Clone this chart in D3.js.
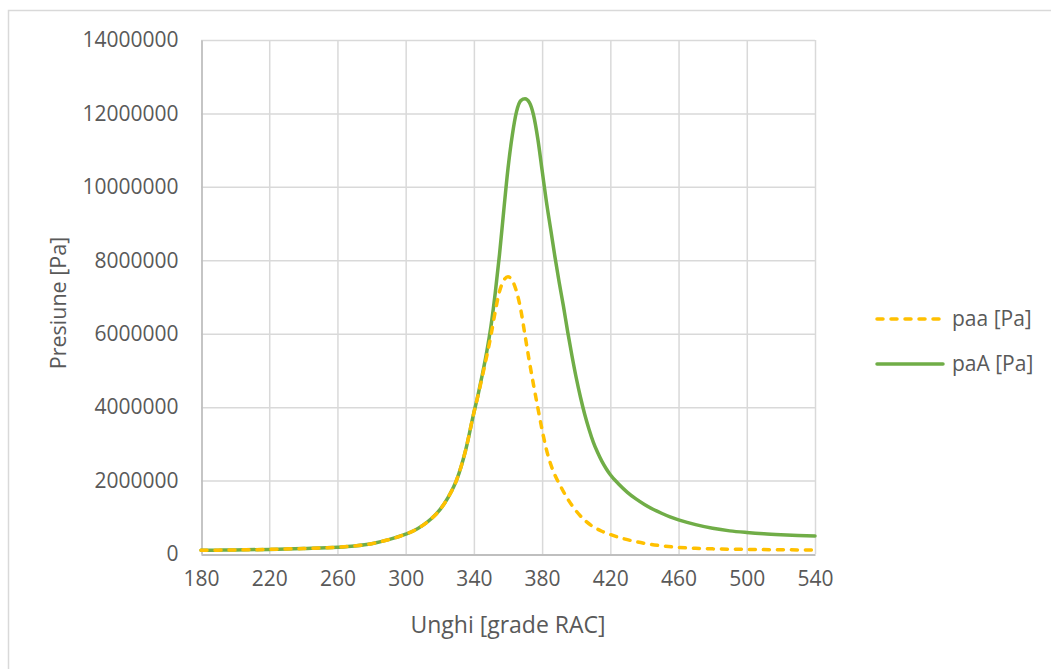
<!DOCTYPE html>
<html>
<head>
<meta charset="utf-8">
<script src="https://cdn.jsdelivr.net/npm/d3@7"></script>
<style>
  html, body { margin: 0; padding: 0; background: #fff; }
  svg { display: block; }
  text { font-family: "Open Sans", "Liberation Sans", sans-serif; fill: #595959; }
</style>
</head>
<body>
<svg id="chart" width="1051" height="669"></svg>
<script>
// Crank angle [deg] and cylinder pressure [Pa], fired cycle (paA)
const anglesA = [180, 190, 200, 220, 240, 260, 270, 280, 290, 300, 305, 310, 315, 320, 325, 330, 335, 340,
                 342.5, 345, 347.5, 350, 352.5, 355, 357.5, 360, 362.5, 365, 367.5, 370, 372.5, 375, 377.5,
                 380, 382.5, 385, 387.5, 390, 392.5, 395, 397.5, 400, 402.5, 405, 407.5, 410, 412.5, 415,
                 417.5, 420, 425, 430, 435, 440, 445, 450, 455, 460, 465, 470, 480, 490, 500, 510, 520, 530, 540];
const paA = [100000, 105000, 110000, 125000, 150000, 185000, 220000, 280000, 390000, 540000, 640000, 780000,
             960000, 1200000, 1550000, 2030000, 2800000, 3850000, 4350000, 4900000, 5500000, 6200000,
             7100000, 8150000, 9350000, 10500000, 11400000, 12050000, 12350000, 12400000, 12300000,
             11950000, 11300000, 10450000, 9600000, 8850000, 8100000, 7400000, 6750000, 6050000, 5400000,
             4800000, 4270000, 3800000, 3400000, 3050000, 2770000, 2530000, 2330000, 2160000, 1900000,
             1680000, 1500000, 1350000, 1220000, 1110000, 1010000, 930000, 860000, 800000, 700000, 630000,
             585000, 550000, 525000, 505000, 490000];

// Crank angle [deg] and cylinder pressure [Pa], motored cycle (paa)
const anglesa = [180, 190, 200, 220, 240, 260, 270, 280, 290, 300, 305, 310, 315, 320, 325, 330, 335, 340,
                 342.5, 345, 347.5, 350, 352.5, 355, 357.5, 360, 362.5, 365, 367.5, 370, 372.5, 375, 377.5,
                 380, 382.5, 385, 387.5, 390, 395, 400, 405, 410, 415, 420, 430, 440, 450, 460, 470, 480,
                 500, 520, 540];
const paa = [100000, 105000, 110000, 125000, 150000, 185000, 220000, 280000, 390000, 540000, 640000, 780000,
             960000, 1200000, 1550000, 2030000, 2800000, 3850000, 4330000, 4850000, 5380000, 5950000,
             6600000, 7150000, 7450000, 7550000, 7450000, 7150000, 6650000, 5950000, 5250000, 4600000,
             3980000, 3380000, 2850000, 2450000, 2150000, 1920000, 1500000, 1170000, 920000, 740000, 620000,
             530000, 390000, 290000, 225000, 180000, 155000, 140000, 125000, 115000, 110000];

const xTicks = [180, 220, 260, 300, 340, 380, 420, 460, 500, 540];
const yTicks = [0, 2000000, 4000000, 6000000, 8000000, 10000000, 12000000, 14000000];

const seriesNames = ["paa [Pa]", "paA [Pa]"];
const seriesColors = ["#FFC000", "#70AD47"];

const svg = d3.select("#chart");

// Chart area frame
svg.append("rect")
  .attr("x", 8.5).attr("y", 10.5)
  .attr("width", 1100).attr("height", 700)
  .attr("fill", "#fff").attr("stroke", "#D9D9D9").attr("stroke-width", 1.5);

const plot = { left: 201, right: 815, top: 40, bottom: 554 };

const x = d3.scaleLinear().domain([180, 540]).range([plot.left, plot.right]);
const y = d3.scaleLinear().domain([0, 14000000]).range([plot.bottom, plot.top]);

// Gridlines
const grid = svg.append("g");
grid.selectAll("line.h").data(yTicks.filter(d => d > 0)).join("line")
  .attr("x1", plot.left).attr("x2", plot.right)
  .attr("y1", d => y(d) + 0.5).attr("y2", d => y(d) + 0.5)
  .attr("stroke", "#D9D9D9").attr("stroke-width", 1.5);
grid.selectAll("line.v").data(xTicks.filter(d => d > 180)).join("line")
  .attr("y1", plot.top).attr("y2", plot.bottom)
  .attr("x1", d => x(d) + 0.5).attr("x2", d => x(d) + 0.5)
  .attr("stroke", "#D9D9D9").attr("stroke-width", 1.5);

// Axes
const xAxis = d3.axisBottom(x).tickValues(xTicks).tickSize(0).tickPadding(24).tickFormat(d3.format("d"));
const yAxis = d3.axisLeft(y).tickValues(yTicks).tickSize(0).tickPadding(23).tickFormat(d3.format("d"));

const gx = svg.append("g").attr("transform", `translate(0,${plot.bottom + 0.5})`).call(xAxis);
const gy = svg.append("g").attr("transform", `translate(${plot.left + 0.5},0)`).call(yAxis);
[gx, gy].forEach(g => {
  g.select(".domain").attr("stroke", "#BFBFBF").attr("stroke-width", 1.8);
  g.selectAll("text").attr("font-size", 21).attr("fill", "#595959")
    .attr("font-family", "\"Open Sans\", sans-serif");
});
gx.selectAll("text").attr("dy", "0.35em");

// Curves
const line = (xs, ys) => d3.line()
  .x((d, i) => x(xs[i]))
  .y(d => y(d))
  .curve(d3.curveMonotoneX)(ys);

svg.append("path")
  .attr("d", line(anglesA, paA))
  .attr("fill", "none").attr("stroke", seriesColors[1])
  .attr("stroke-width", 3.5).attr("stroke-linejoin", "round").attr("stroke-linecap", "round");

svg.append("path")
  .attr("d", line(anglesa, paa))
  .attr("fill", "none").attr("stroke", seriesColors[0])
  .attr("stroke-width", 3.5).attr("stroke-dasharray", "6,8").attr("stroke-linecap", "round");

// Axis titles
svg.append("text")
  .attr("x", (plot.left + plot.right) / 2).attr("y", 633)
  .attr("text-anchor", "middle").attr("font-size", 23)
  .text("Unghi [grade RAC]");

svg.append("text")
  .attr("transform", `translate(66,${(plot.top + plot.bottom) / 2 + 6}) rotate(-90)`)
  .attr("text-anchor", "middle").attr("font-size", 21.5)
  .text("Presiune [Pa]");

// Legend
const legend = svg.append("g");
const legendY = [319, 364];
seriesNames.forEach((name, i) => {
  legend.append("line")
    .attr("x1", 877).attr("x2", 943)
    .attr("y1", legendY[i]).attr("y2", legendY[i])
    .attr("stroke", seriesColors[i]).attr("stroke-width", 3.5)
    .attr("stroke-linecap", "round")
    .attr("stroke-dasharray", i === 0 ? "6,8" : null);
  legend.append("text")
    .attr("x", 952).attr("y", legendY[i])
    .attr("dy", "0.35em").attr("font-size", 21)
    .text(name);
});
</script>
</body>
</html>
